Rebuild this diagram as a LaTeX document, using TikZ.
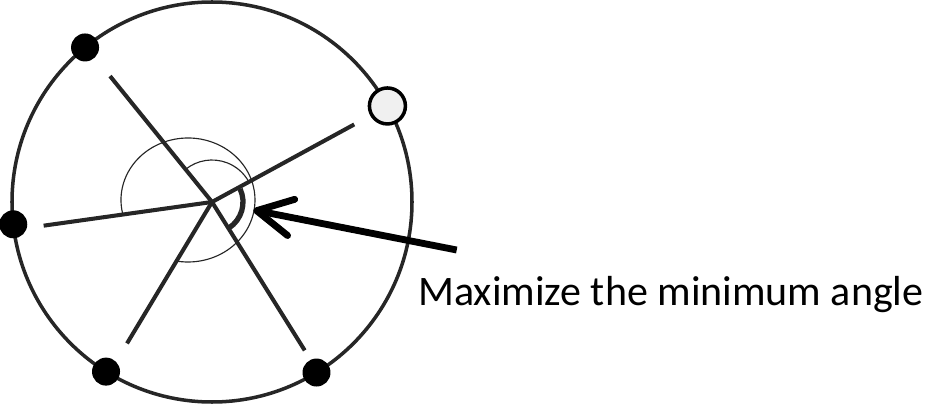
\documentclass[tikz,border=0pt]{standalone}
\usepackage{fontspec}
\setmainfont{Carlito}
\usetikzlibrary{calc}
\usetikzlibrary{arrows.meta}

\begin{document}
\begin{tikzpicture}[
        x=0.02cm, y=0.02cm,
        rim/.style={draw=black!85, line width=2pt},
        spoke/.style={draw=black!85, line width=2.3pt},
        thinarc/.style={draw=black!85, line width=0.65pt},
        dot/.style={circle, fill=black, inner sep=0pt, minimum size=0.56cm},
        opendot/.style={circle, draw=black, fill=gray!12, line width=2pt,
            inner sep=0pt, minimum size=0.72cm}
    ]

    \useasboundingbox (0,0) rectangle (950,406);

    \coordinate (O) at (212,204);

    % outer circle
    \draw[rim] (O) circle (200);

    % points on the circle
    \node[dot]     (P1) at ($(O)+(129.4:200)$) {};
    \node[opendot] (P2) at ($(O)+(28.7:200)$)  {};
    \node[dot]     (P3) at ($(O)+(186.4:200)$) {};
    \node[dot]     (P4) at ($(O)+(238:200)$)   {};
    \node[dot]     (P5) at ($(O)+(301.5:200)$) {};

    % spoke ends
    \coordinate (E1) at ($(O)+(129:162)$);
    \coordinate (E2) at ($(O)+(28.6:162)$);
    \coordinate (E3) at ($(O)+(188:170)$);
    \coordinate (E4) at ($(O)+(239:165)$);
    \coordinate (E5) at ($(O)+(302:175)$);

    \draw[spoke] (O) -- (E1);
    \draw[spoke] (O) -- (E2);
    \draw[spoke] (O) -- (E3);
    \draw[spoke] (O) -- (E4);
    \draw[spoke] (O) -- (E5);

    % angle marks
    \coordinate (C) at (188,206);
    \draw[thinarc] ($(C)+(192:67 and 62)$) arc[start angle=192, end angle=-99,
        x radius=67, y radius=62];
    \draw[thinarc] ($(O)+(129:42)$) arc[start angle=129, end angle=28.6, radius=42];
    \draw[draw=black!85, line width=3pt] ($(O)+(25:31)$)
        arc[start angle=25, end angle=-57, radius=31];

    % label and arrow
    \node[anchor=base west, inner sep=0pt, font=\fontsize{23.9}{28}\selectfont]
        (lbl) at (418,101) {Maximize the minimum angle};
    \coordinate (tail) at (456.7,156);
    \coordinate (tip)  at (253.3,196);
    \draw[line width=3.9pt, -{Straight Barb[length=20pt, width=21pt, round]}]
        (tail) -- (tip);

\end{tikzpicture}
\end{document}
